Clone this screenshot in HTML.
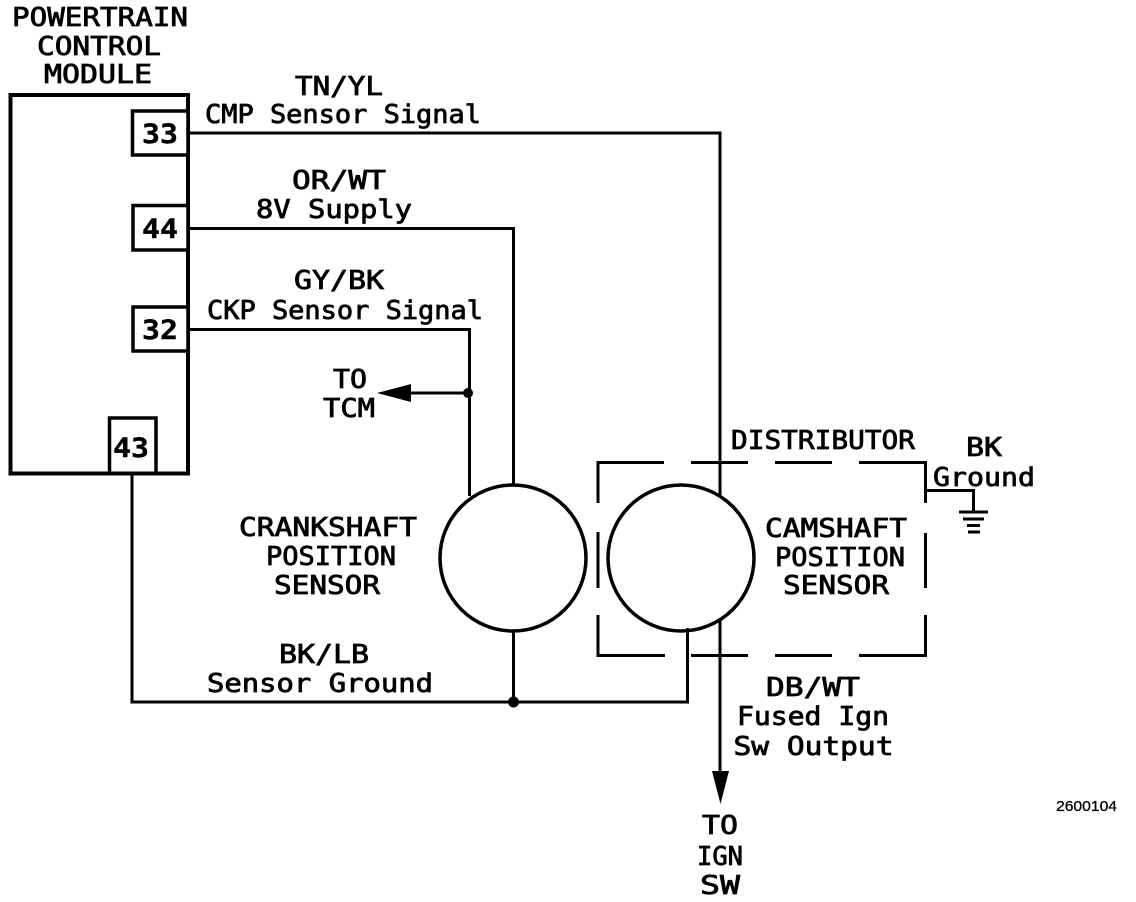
<!DOCTYPE html>
<html>
<head>
<meta charset="utf-8">
<style>
html,body{margin:0;padding:0;background:#fff;}
svg{display:block;}
text{font-family:"DejaVu Sans Mono","Liberation Mono",monospace;fill:#000;font-size:26px;stroke:#000;stroke-width:.8px;}
.n{font-weight:bold;stroke-width:.4px;font-size:27px;}
</style>
</head>
<body>
<svg width="1136" height="902" viewBox="0 0 1136 902" xmlns="http://www.w3.org/2000/svg">
<g fill="none" stroke="#000" stroke-width="3">
<rect x="10.500" y="95" width="177.500" height="378.500" stroke-width="4"/>
<rect x="132.500" y="111" width="55.500" height="44" fill="#fff" stroke-width="3.500"/>
<rect x="133" y="205.500" width="55" height="44.500" fill="#fff" stroke-width="3.500"/>
<rect x="133" y="307" width="55" height="44" fill="#fff" stroke-width="3.500"/>
<path d="M109.500 473V418H156V473" stroke-width="3.500"/>
<path d="M188 133H720V495"/>
<path d="M188 228.500H513.500V486"/>
<path d="M188 329.500H469.500V496"/>
<path d="M469 393H405"/>
<path d="M132 473V702H687.500V628"/>
<path d="M513.500 630V702"/>
<path d="M720 620V775"/>
<circle cx="513" cy="558" r="73" stroke-width="3.500"/>
<circle cx="681" cy="558" r="73" stroke-width="3.500"/>
<path d="M926 490.500H973.500V511"/>
<path d="M959 512H988M963 519H984M967 525.500H980M968 532H980"/>
<path d="M598 503V462.500H664M691 462.500H748M775 462.500H832M859 462.500H925.500V503M925.500 533V588M925.500 615V655.500H859M832 655.500H775M748 655.500H691M665 655.500H598V615M598 588V532"/>
</g>
<circle cx="468" cy="393" r="5" fill="#000"/>
<circle cx="513.500" cy="702" r="5.500" fill="#000"/>
<polygon points="377,393 411,384 411,402" fill="#000"/>
<polygon points="720.500,804 712,771 729,771" fill="#000"/>
<g text-anchor="middle">
<text x="100" y="26" textLength="176" lengthAdjust="spacingAndGlyphs">POWERTRAIN</text>
<text x="99" y="55" textLength="124" lengthAdjust="spacingAndGlyphs">CONTROL</text>
<text x="98" y="83" textLength="108" lengthAdjust="spacingAndGlyphs">MODULE</text>
<text class="n" x="160" y="143" textLength="36" lengthAdjust="spacingAndGlyphs">33</text>
<text class="n" x="160" y="238" textLength="36" lengthAdjust="spacingAndGlyphs">44</text>
<text class="n" x="160" y="339" textLength="36" lengthAdjust="spacingAndGlyphs">32</text>
<text class="n" x="131" y="457" textLength="36" lengthAdjust="spacingAndGlyphs">43</text>
<text x="339" y="95" textLength="88" lengthAdjust="spacingAndGlyphs">TN/YL</text>
<text x="343" y="123" textLength="276" lengthAdjust="spacingAndGlyphs">CMP Sensor Signal</text>
<text x="339" y="189" textLength="94" lengthAdjust="spacingAndGlyphs">OR/WT</text>
<text x="334" y="218" textLength="156" lengthAdjust="spacingAndGlyphs">8V Supply</text>
<text x="339" y="289" textLength="90" lengthAdjust="spacingAndGlyphs">GY/BK</text>
<text x="345" y="319" textLength="276" lengthAdjust="spacingAndGlyphs">CKP Sensor Signal</text>
<text x="350" y="388" textLength="34" lengthAdjust="spacingAndGlyphs">TO</text>
<text x="349" y="417" textLength="52" lengthAdjust="spacingAndGlyphs">TCM</text>
<text x="328" y="536" textLength="178" lengthAdjust="spacingAndGlyphs">CRANKSHAFT</text>
<text x="331" y="565" textLength="130" lengthAdjust="spacingAndGlyphs">POSITION</text>
<text x="327" y="594" textLength="106" lengthAdjust="spacingAndGlyphs">SENSOR</text>
<text x="324" y="663" textLength="90" lengthAdjust="spacingAndGlyphs">BK/LB</text>
<text x="320" y="692" textLength="226" lengthAdjust="spacingAndGlyphs">Sensor Ground</text>
<text x="823" y="449" textLength="184" lengthAdjust="spacingAndGlyphs">DISTRIBUTOR</text>
<text x="984" y="456" textLength="36" lengthAdjust="spacingAndGlyphs">BK</text>
<text x="984" y="486" textLength="102" lengthAdjust="spacingAndGlyphs">Ground</text>
<text x="836" y="537" textLength="142" lengthAdjust="spacingAndGlyphs">CAMSHAFT</text>
<text x="840" y="566" textLength="130" lengthAdjust="spacingAndGlyphs">POSITION</text>
<text x="836" y="594" textLength="106" lengthAdjust="spacingAndGlyphs">SENSOR</text>
<text x="813" y="696" textLength="94" lengthAdjust="spacingAndGlyphs">DB/WT</text>
<text x="813" y="725" textLength="152" lengthAdjust="spacingAndGlyphs">Fused Ign</text>
<text x="813.500" y="755" textLength="160" lengthAdjust="spacingAndGlyphs">Sw Output</text>
<text x="720" y="834" textLength="36" lengthAdjust="spacingAndGlyphs">TO</text>
<text x="720" y="865" textLength="46" lengthAdjust="spacingAndGlyphs">IGN</text>
<text x="720" y="894" textLength="40" lengthAdjust="spacingAndGlyphs">SW</text>
</g>
<text x="1056" y="811" style="font-family:'Liberation Sans',sans-serif;font-size:15px;stroke-width:.3px" textLength="61" lengthAdjust="spacingAndGlyphs">2600104</text>
</svg>
</body>
</html>
